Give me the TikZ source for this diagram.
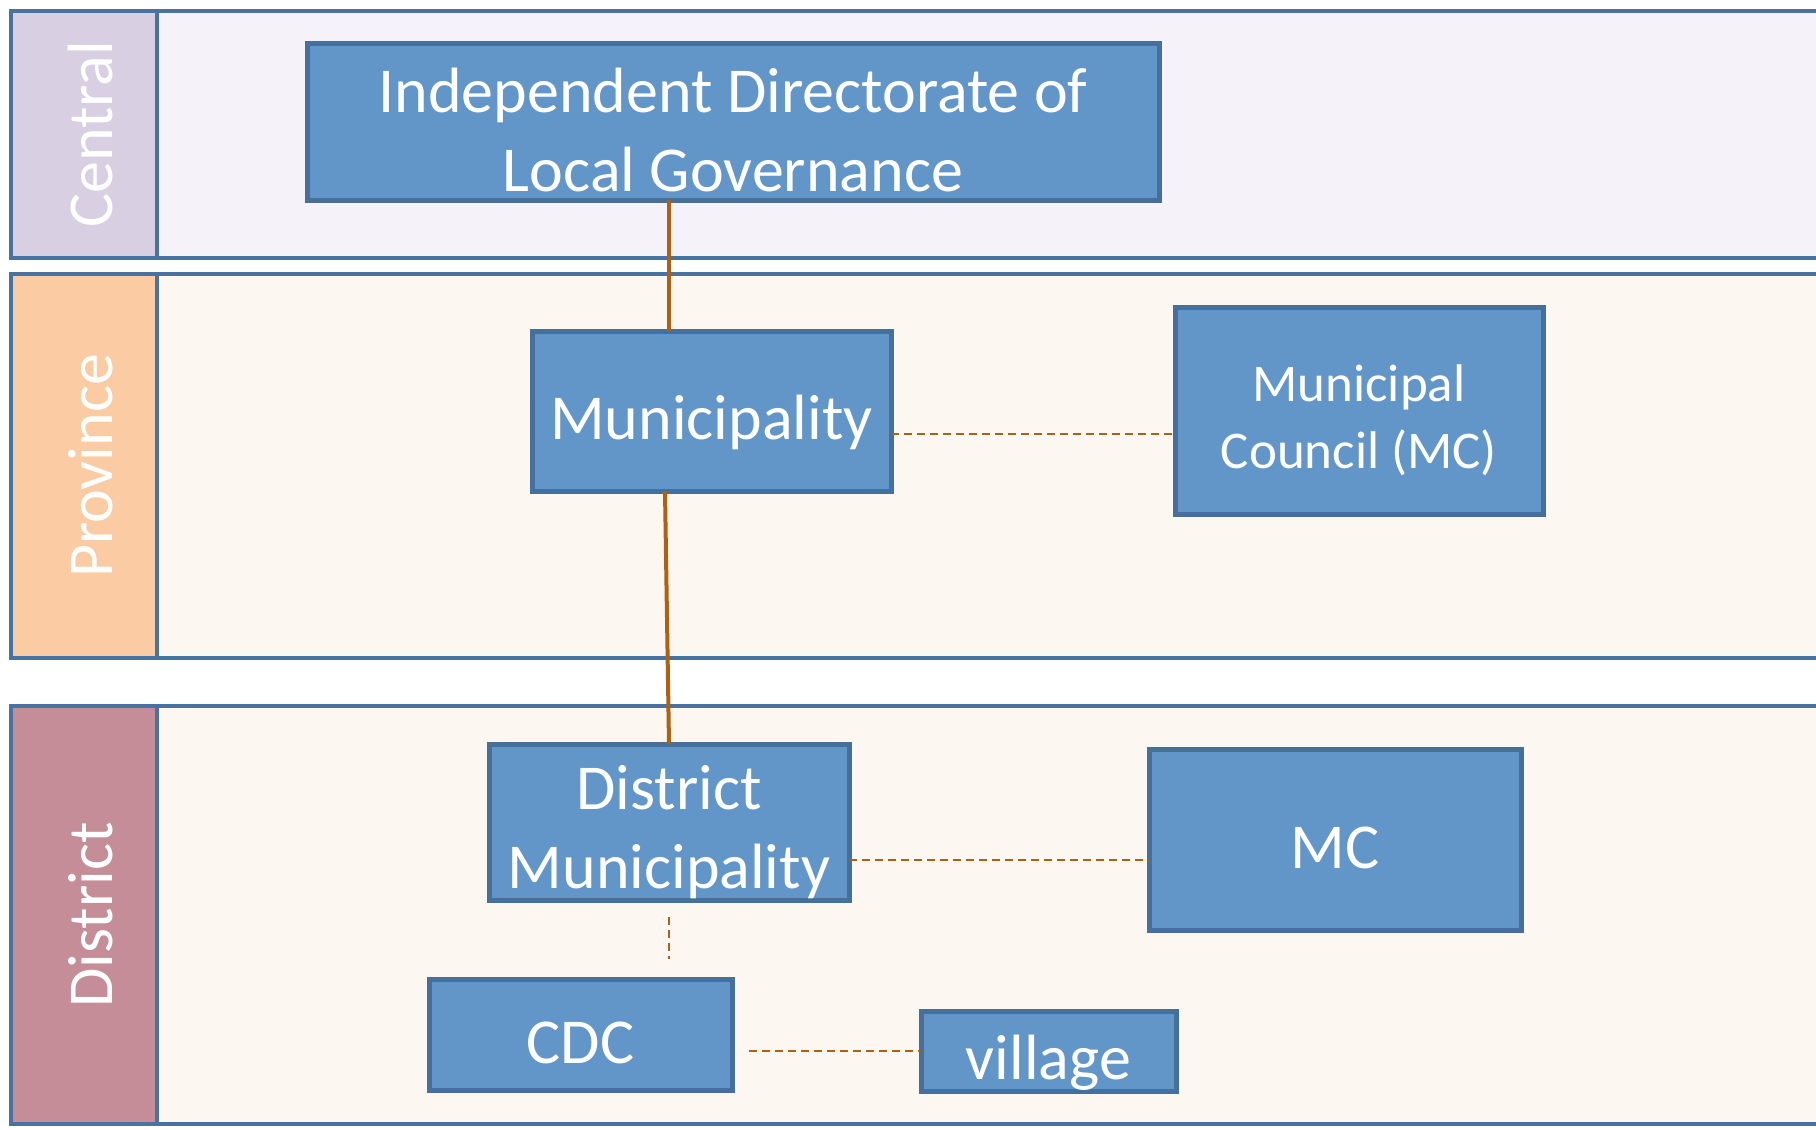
\documentclass[tikz,border=0pt]{standalone}
\usepackage{fontspec}
\setmainfont{Carlito}
\usetikzlibrary{positioning,calc}

\definecolor{laneline}{RGB}{72,114,160}
\definecolor{boxline}{RGB}{70,112,156}
\definecolor{boxfill}{RGB}{98,150,200}
\definecolor{centralbg}{RGB}{245,243,249}
\definecolor{lowerbg}{RGB}{253,247,241}
\definecolor{centraltab}{RGB}{216,207,226}
\definecolor{provincetab}{RGB}{251,203,163}
\definecolor{districttab}{RGB}{196,141,152}
\definecolor{tiecol}{RGB}{176,96,16}

\tikzstyle{unit} = [draw=boxline, line width=5pt, fill=boxfill, text=white, inner sep=0pt, outer sep=0pt, align=center, font=\fontsize{64}{79}\selectfont]
\tikzstyle{oneline} = [unit, text height=63pt, text depth=6pt]
\tikzstyle{lanetab} = [draw=laneline, line width=4pt, text=white, rotate=90, minimum height=146pt, inner sep=0pt, outer sep=0pt, font=\fontsize{64}{79}\selectfont, text height=63pt, text depth=6pt]
\tikzstyle{tie} = [draw=tiecol, line width=4pt]
\tikzstyle{link} = [draw=tiecol, line width=2pt, dash pattern=on 8pt off 5pt]

\begin{document}
\begin{tikzpicture}[x=1pt, y=1pt]
    \useasboundingbox (0,0) rectangle (1816,-1130);
    % lanes
    \draw[draw=laneline, line width=4pt, fill=centralbg] (11,-11) rectangle (1840,-258);
    \draw[draw=laneline, line width=4pt, fill=lowerbg] (11,-274) rectangle (1840,-658);
    \draw[draw=laneline, line width=4pt, fill=lowerbg] (11,-706) rectangle (1840,-1124);
    \node (central) [lanetab, fill=centraltab, minimum width=247pt] at (84,-134.5) {Central};
    \node (province) [lanetab, fill=provincetab, minimum width=384pt] at (84,-466) {Province};
    \node (district) [lanetab, fill=districttab, minimum width=418pt] at (84,-915) {District};

    % create the units
    \node (idlg) [unit, minimum width=852pt, minimum height=157pt] at (733,-121.5) {\rule{0pt}{62pt}Independent Directorate of\\Local Governance};
    \node (muni) [oneline, minimum width=359pt, minimum height=160pt] at (711.5,-411) {Municipality};
    \node (council) [unit, right=284pt of muni, minimum width=368pt, minimum height=207pt, font=\fontsize{53}{67}\selectfont] {\rule{0pt}{55pt}Municipal\\Council (MC)};
    \node (dmuni) [unit, minimum width=360pt, minimum height=156pt] at (669,-822) {\rule{0pt}{64pt}District\\Municipality};
    \node (mc) [oneline, minimum width=372pt, minimum height=181pt] at (1335,-839.5) {MC};
    \node (cdc) [oneline, minimum width=303pt, minimum height=111pt] at (580.5,-1034.5) {CDC};
    \node (village) [oneline, minimum width=255pt, minimum height=80pt] at (1048.5,-1051) {village};

    % connect the units
    \draw[tie] (idlg.south -| dmuni.north) -- (muni.north -| dmuni.north);
    \draw[tie] ([xshift=-46.5pt]muni.south) -- (dmuni.north);
    \draw[link] ([yshift=-23pt]muni.east) -- ([yshift=-23pt]council.west);
    \draw[link] ([yshift=-38pt]dmuni.east) -- ([yshift=-20.5pt]mc.west);
    \draw[link] ([yshift=-17pt]dmuni.south) -- ($(dmuni.south |- cdc.north)+(0,20)$);
    \draw[link] ($(cdc.east |- village.west)+(17,0)$) -- (village.west);

\end{tikzpicture}
\end{document}
